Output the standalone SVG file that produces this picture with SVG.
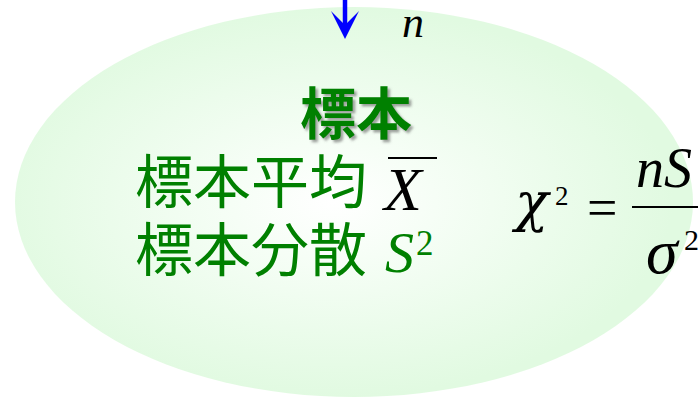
<svg xmlns="http://www.w3.org/2000/svg" width="698" height="398" viewBox="0 0 698 398">
<style>
.cjk{font-family:"Noto Sans CJK JP","Noto Sans CJK SC",sans-serif;fill:#008000}
.math{font-family:"Liberation Serif","Times New Roman",serif;font-style:italic}
.up{font-family:"Liberation Serif","Times New Roman",serif}
</style>
<defs>
<radialGradient id="bg" cx="0.47" cy="0.5" r="0.5">
<stop offset="0" stop-color="#ffffff"/>
<stop offset="0.3" stop-color="#f6fef6"/>
<stop offset="1" stop-color="#e1fae1"/>
</radialGradient>
<filter id="sh" x="-10%" y="-10%" width="130%" height="130%">
<feDropShadow dx="2.5" dy="2.5" stdDeviation="1.2" flood-color="#555" flood-opacity="0.55"/>
</filter>
<marker id="ah" markerUnits="userSpaceOnUse" viewBox="0 0 28 28" markerWidth="28" markerHeight="28" refX="19" refY="14" orient="auto">
<path d="M0,0 L28,14 L0,28 L14,14 z" fill="#0000ff"/>
</marker>
</defs>
<g id="sample">
<ellipse cx="354" cy="202" rx="339" ry="195" fill="url(#bg)"/>
<text class="cjk" x="356" y="134" font-size="56" font-weight="bold" text-anchor="middle" filter="url(#sh)">標本</text>
<text class="cjk" x="135" y="203" font-size="58">標本平均</text>
<text class="cjk" x="135" y="271" font-size="58">標本分散</text>
<text class="math" x="384" y="210" font-size="62" fill="#000">X</text>
<line x1="388" y1="158" x2="437" y2="158" stroke="#000" stroke-width="2.2"/>
<text class="math" x="385" y="272" font-size="58" fill="#008000">S</text>
<text class="up" x="416" y="255" font-size="35" fill="#008000">2</text>
</g>
<g id="formula">
<text x="515" y="221" font-size="55" font-family="'DejaVu Serif',serif" font-style="italic">χ</text>
<text class="up" x="555" y="205" font-size="27">2</text>
<text class="up" x="587" y="226" font-size="54">=</text>
<line x1="632" y1="207" x2="700" y2="207" stroke="#000" stroke-width="2.2"/>
<text class="math" x="636" y="187" font-size="56">nS</text>
<text class="math" x="646" y="273" font-size="64">σ</text>
<text class="up" x="684" y="250" font-size="30">2</text>
</g>
<g id="connectors">
<line x1="345" y1="0" x2="345" y2="30" stroke="#0000ff" stroke-width="4.5" marker-end="url(#ah)"/>
<text class="math" x="402" y="37" font-size="44" fill="#000">n</text>
</g>
</svg>
